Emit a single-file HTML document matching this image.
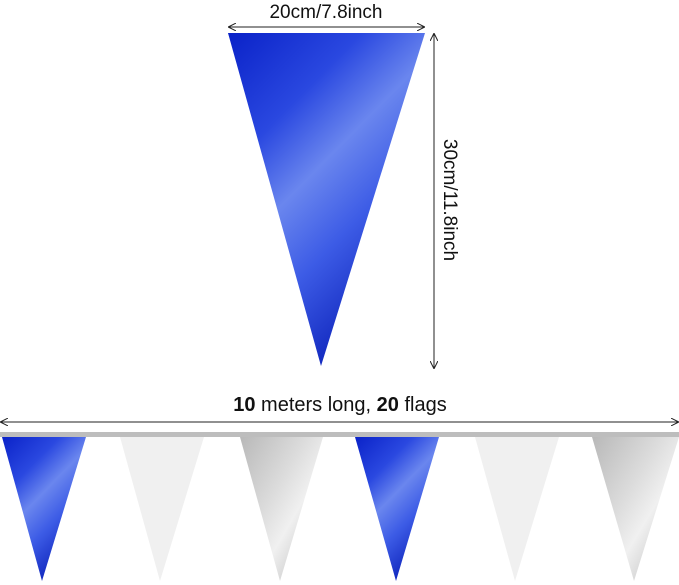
<!DOCTYPE html>
<html><head><style>
body{margin:0;background:#fff}
svg{display:block}
text{font-family:"Liberation Sans",sans-serif;fill:#111}
</style></head><body>
<svg width="679" height="585" viewBox="0 0 679 585">
<defs>
<linearGradient id="b" x1="0" y1="0" x2="0.6" y2="1">
<stop offset="0" stop-color="#0a22c8"/><stop offset="0.3" stop-color="#2a48e0"/><stop offset="0.5" stop-color="#6a86ee"/><stop offset="0.7" stop-color="#3d5ce6"/><stop offset="1" stop-color="#0a1fb8"/></linearGradient>
<linearGradient id="s" x1="0" y1="0" x2="1" y2="1">
<stop offset="0" stop-color="#b8b8b8"/><stop offset="0.4" stop-color="#dcdcdc"/><stop offset="0.6" stop-color="#f0f0f0"/><stop offset="1" stop-color="#b0b0b0"/></linearGradient>
<marker id="a" viewBox="0 0 10 10" refX="9" refY="5" markerWidth="8" markerHeight="8" orient="auto-start-reverse"><path d="M0,0 L10,5 L0,10" fill="none" stroke="#222" stroke-width="1.3"/></marker>
</defs>
<polygon points="228,33 425,33 321,366" fill="url(#b)"/>
<line x1="229" y1="27" x2="424" y2="27" stroke="#222" stroke-width="1" marker-start="url(#a)" marker-end="url(#a)"/>
<text x="326" y="18" font-size="19" text-anchor="middle">20cm/7.8inch</text>
<line x1="434" y1="34" x2="434" y2="368" stroke="#222" stroke-width="1" marker-start="url(#a)" marker-end="url(#a)"/>
<text transform="translate(444,200) rotate(90)" font-size="19" text-anchor="middle">30cm/11.8inch</text>
<line x1="1" y1="422" x2="678" y2="422" stroke="#222" stroke-width="1" marker-start="url(#a)" marker-end="url(#a)"/>
<text x="340" y="411" font-size="20" text-anchor="middle"><tspan font-weight="bold">10</tspan> meters long, <tspan font-weight="bold">20</tspan> flags</text>
<rect x="0" y="432" width="679" height="5" fill="#bdbdbd"/>
<polygon points="2,437 86,437 42,581" fill="url(#b)"/>
<polygon points="120,437 204,437 160,581" fill="#f0f0f0"/>
<polygon points="240,437 323,437 280,581" fill="url(#s)"/>
<polygon points="355,437 439,437 396,581" fill="url(#b)"/>
<polygon points="475,437 559,437 515,581" fill="#f0f0f0"/>
<polygon points="592,437 679,437 634,581" fill="url(#s)"/>
</svg>
</body></html>
